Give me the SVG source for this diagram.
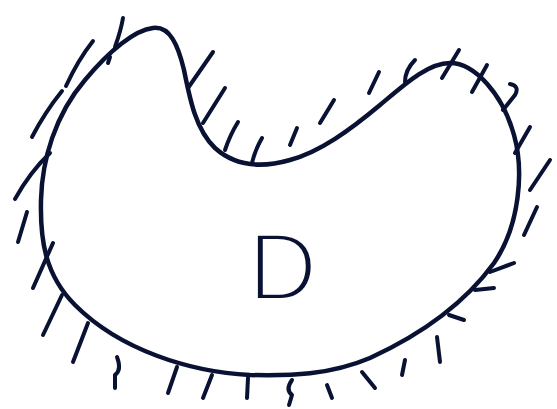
<svg xmlns="http://www.w3.org/2000/svg" width="557" height="409" viewBox="0 0 557 409">
<style>
.ink{fill:none;stroke:#0a1233;stroke-linecap:round;stroke-linejoin:round}
.outline{stroke-width:4.5}
.hatch{stroke-width:4}
.label{font-family:"Liberation Sans",Arial,sans-serif;font-size:96px;fill:#0a1233;stroke:#ffffff;stroke-width:4}
</style>
<rect width="557" height="409" fill="#ffffff"/>
<g id="region-D">
<path class="ink outline" d="M153,28 C170,26 178,45 184,70 C190,100 196,130 215,148 C235,166 262,168 290,160 C320,152 350,130 380,105 C405,84 428,63 450,63 C475,63 503,95 514,135 C524,170 520,225 494,263 C465,303 420,335 370,358 C330,375 290,376 250,375 C190,372 120,350 75,305 C45,275 40,240 41,200 C42,160 55,115 85,80 C110,50 135,30 153,28 Z"/>
<text class="label" x="248" y="300">D</text>
</g>
<g id="hatching" class="ink hatch">
<path d="M123,18 Q121,30 115,47"/>
<path d="M93,41 Q78,60 66,86"/>
<path d="M62,91 Q45,112 32,137"/>
<path d="M50,153 Q30,172 15,199"/>
<path d="M110,57 L108,63"/>
<path d="M213,52 L188,88"/>
<path d="M225,88 L203,123"/>
<path d="M238,122 Q230,135 225,150"/>
<path d="M262,138 Q255,150 252,163"/>
<path d="M297,128 L290,145"/>
<path d="M334,100 L320,123"/>
<path d="M379,72 L369,93"/>
<path d="M415,60 Q405,70 405,82"/>
<path d="M459,50 L442,78"/>
<path d="M487,65 L472,92"/>
<path d="M510,84 Q520,86 515,95 L503,110"/>
<path d="M530,127 L515,153"/>
<path d="M550,160 L530,190"/>
<path d="M537,207 L524,235"/>
<path d="M514,263 L490,272"/>
<path d="M494,288 L475,290"/>
<path d="M464,320 L449,315"/>
<path d="M437,337 L440,362"/>
<path d="M405,360 L402,375"/>
<path d="M362,372 L375,388"/>
<path d="M327,385 L332,398"/>
<path d="M292,380 Q285,390 292,395 L289,405"/>
<path d="M27,212 L18,242"/>
<path d="M53,243 L33,288"/>
<path d="M62,295 L43,335"/>
<path d="M88,323 L73,362"/>
<path d="M117,357 Q122,370 115,375 L115,388"/>
<path d="M177,367 L168,393"/>
<path d="M212,375 L203,398"/>
<path d="M248,378 L247,398"/>
</g>
</svg>
